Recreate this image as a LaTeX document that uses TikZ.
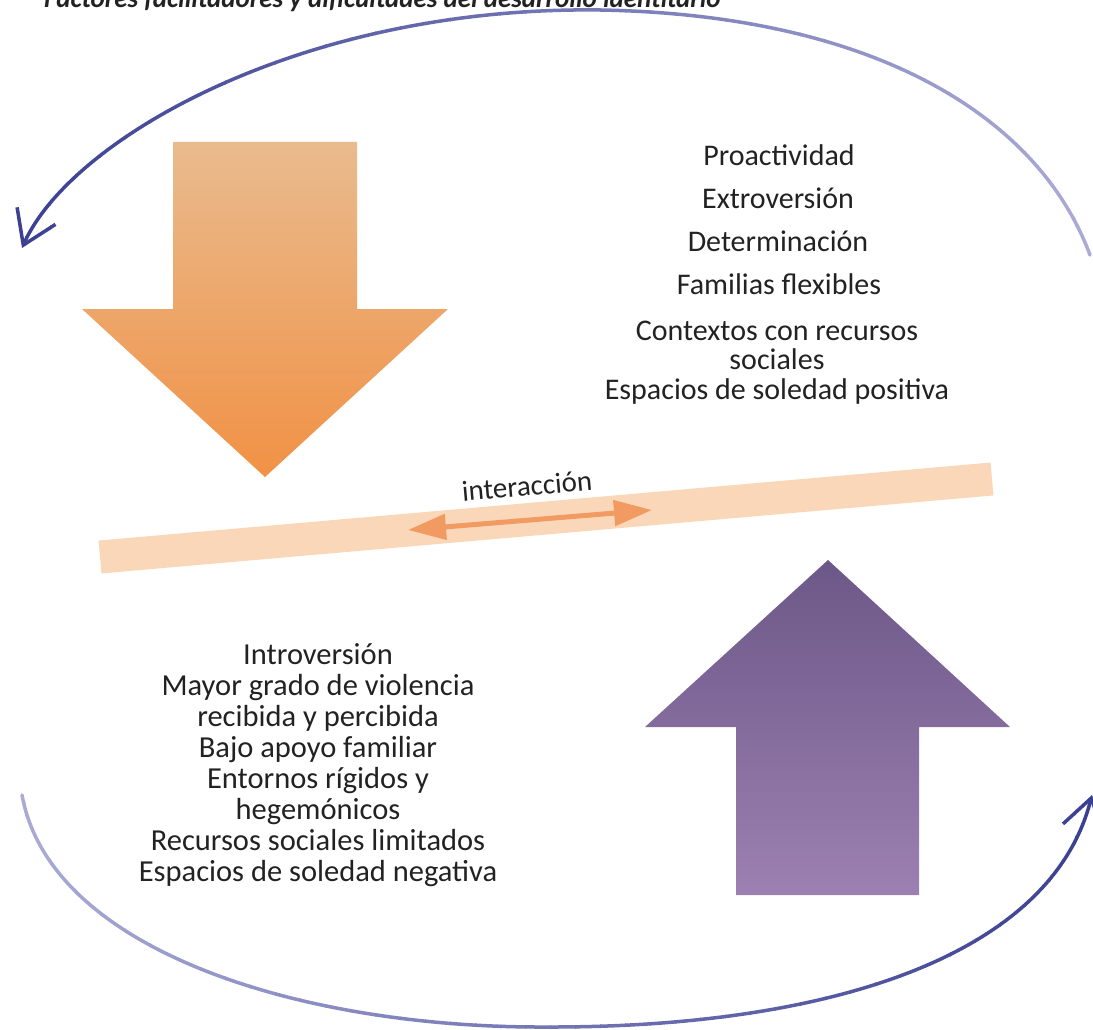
\documentclass[tikz,border=0pt]{standalone}
\usepackage{fontspec}
\setmainfont{Carlito}
\usetikzlibrary{arrows.meta}
\definecolor{arcdark}{HTML}{3A3F91}
\definecolor{arclight}{HTML}{ABACD6}
\definecolor{txt}{HTML}{222222}
\definecolor{bandfill}{HTML}{FBD7B9}
\definecolor{linkorange}{HTML}{F19B62}
\definecolor{orangetop}{HTML}{E9BB8E}
\definecolor{orangebot}{HTML}{F19145}
\definecolor{purpletop}{HTML}{6C5888}
\definecolor{purplebot}{HTML}{9C80B2}
\begin{document}
\begin{tikzpicture}[x=1pt,y=-1pt,
  item/.style={text=txt, font=\fontsize{30}{31}\selectfont, align=center, inner sep=0pt},
  loopline/.style={line width=3.5pt, line cap=round},
  looptip/.style={-{Straight Barb[length=32pt,width=42pt]}}
]
\useasboundingbox (0,0) rectangle (1093,1030);
\clip (0,0) rectangle (1093,1030);

% heading, partly cut off by the top edge
\node[anchor=base west, inner sep=0pt, text=txt,
      font=\fontsize{27}{30}\selectfont\bfseries\itshape] (title) at (44,8)
  {Factores facilitadores y dificultades del desarrollo identitario};

% the cycle: two curved arrows whose colour fades along their length
\foreach \k in {0,...,43} {
  \pgfmathtruncatemacro\xa{\k*25}
  \pgfmathtruncatemacro\xb{\k*25+26}
  \pgfmathtruncatemacro\pl{(\k*25+12)/1093*100}
  \pgfmathtruncatemacro\pu{100-\pl}
  \begin{scope}
    \clip (\xa,-5) rectangle (\xb,1035);
    \draw[loopline, looptip, arcdark!\pu!arclight]
      (1090,255) .. controls (1040,120) and (880,15) .. (600,10)
      .. controls (300,6) and (70,140) .. (22,248);
    \draw[loopline, looptip, arcdark!\pl!arclight]
      (22,795) .. controls (50,950) and (300,1028) .. (545,1027)
      .. controls (820,1028) and (1050,960) .. (1092,795);
  \end{scope}
}

% downward orange arrow
\shade[top color=orangetop, bottom color=orangebot]
  (173,142) -- (357,142) -- (357,309) -- (448,309) -- (265,477)
  -- (82,309) -- (173,309) -- cycle;

% upward purple arrow
\shade[top color=purpletop, bottom color=purplebot]
  (828,560) -- (1010,727) -- (919,727) -- (919,895) -- (736,895)
  -- (736,727) -- (645,727) -- cycle;

% interaction band with its double arrow
\coordinate (bandL) at (100,557);
\coordinate (bandR) at (992,479);
\draw[bandfill, line width=33pt] (bandL) -- (bandR);
\coordinate (linkL) at (408,530);
\coordinate (linkR) at (652,510);
\draw[linkorange, line width=5pt,
      {Triangle[length=38pt,width=25pt]}-{Triangle[length=38pt,width=25pt]}]
  (linkL) -- (linkR);
\node[text=txt, font=\fontsize{29}{30}\selectfont, rotate=5, inner sep=0pt]
  (inter) at (527,486) {interacción};

% facilitating factors
\node[item] (f1) at (779,155) {Proactividad};
\node[item] (f2) at (778,198) {Extroversión};
\node[item] (f3) at (778,241) {Determinación};
\node[item] (f4) at (779,284) {Familias flexibles};
\node[item, font=\fontsize{30}{29.5}\selectfont, anchor=base] (f5) at (777,399)
  {Contextos con recursos\\sociales\\Espacios de soledad positiva};

% hindering factors
\node[item, font=\fontsize{30.5}{31}\selectfont] (d1) at (318,765) {Introversión\\Mayor grado de violencia\\recibida y percibida\\Bajo apoyo familiar\\Entornos rígidos y\\hegemónicos\\Recursos sociales limitados\\Espacios de soledad negativa};
\end{tikzpicture}
\end{document}
